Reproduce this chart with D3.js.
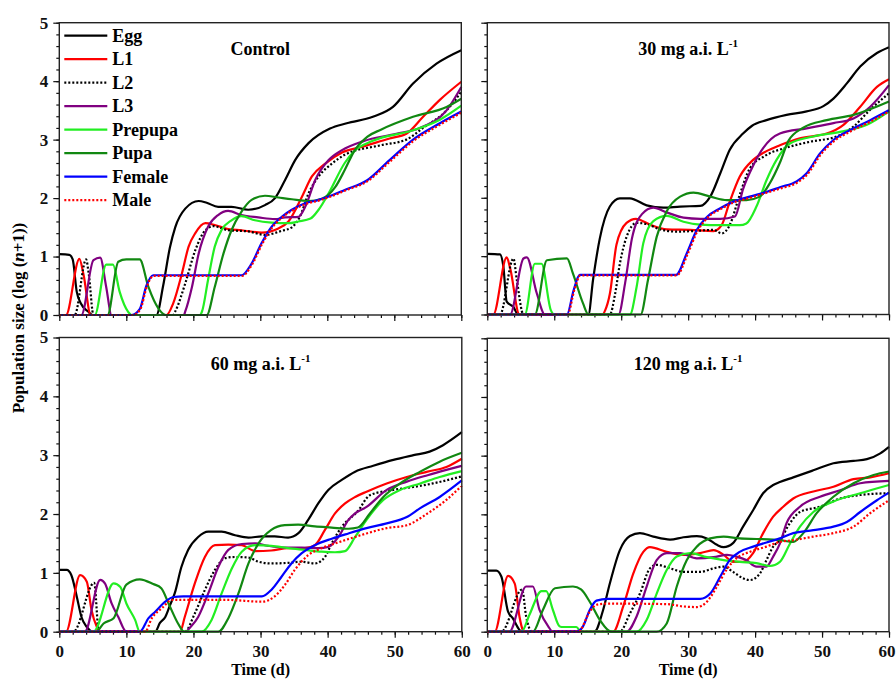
<!DOCTYPE html>
<html>
<head>
<meta charset="utf-8">
<script src="https://cdn.jsdelivr.net/npm/d3@7"></script>
<style>
  body { margin: 0; background: #fff; }
  text { font-family: "Liberation Serif", "Times New Roman", serif; font-weight: bold; }
</style>
</head>
<body>
<svg id="drawspace" width="896" height="681"></svg>
<script>
// ---- data: [day, log(n+1)] ----
const ctrlEgg = [[0,1.04],[1.5,1.03],[2,0.95],[2.6,0.4],[3.2,0.2],[4.3,0.06],[5,0],[14.5,0],[15.5,0.5],[16.5,1.15],[17.3,1.5],[18.8,1.82],[20.8,1.95],[22,1.92],[23.7,1.85],[25.7,1.85],[28.2,1.8],[30.7,1.88],[32.2,2.0],[33.7,2.31],[35.2,2.65],[37.2,2.94],[40.4,3.19],[42.9,3.28],[46.8,3.39],[49.8,3.56],[52.8,3.96],[56.3,4.3],[60,4.53]];
const ctrlL1 = [[0,0],[1,0],[3,0.96],[3.6,0.7],[4.7,0],[16,0],[17,0.2],[18.3,0.71],[19.3,1.17],[20.3,1.4],[21.8,1.57],[23.2,1.54],[25.2,1.47],[27.2,1.45],[30.2,1.41],[32.7,1.48],[34.2,1.6],[36.2,2.02],[37.7,2.37],[39.7,2.59],[42.2,2.78],[45.3,2.88],[49.3,3.02],[51.8,3.1],[54.3,3.39],[56.8,3.68],[60,3.99]];
const ctrlL2 = [[0,0],[2.3,0],[4,0.95],[4.4,0.7],[5.1,0],[17,0],[17.3,0.06],[18.8,0.54],[20.3,1.11],[21.8,1.45],[23,1.52],[25.2,1.45],[28.2,1.43],[30.7,1.37],[33.2,1.44],[34.7,1.5],[35.9,1.68],[37.2,2.08],[38.7,2.37],[40.7,2.59],[42.6,2.74],[47.8,2.9],[51.8,3.0],[54.3,3.2],[57.8,3.5],[60,3.82]];
const ctrlL3 = [[0,0],[3.3,0],[5.1,0.94],[6.1,0.98],[7,0.48],[7.8,0],[18.6,0],[18.8,0.06],[19.8,0.48],[20.8,1.05],[22.2,1.51],[23.7,1.71],[25.2,1.78],[27.2,1.71],[29.7,1.67],[32.2,1.64],[33.7,1.67],[35.7,1.68],[36.7,1.85],[38.2,2.31],[40.2,2.65],[42.2,2.82],[45.3,2.97],[50.3,3.1],[53.8,3.2],[57.8,3.5],[60,3.9]];
const ctrlPrepupa = [[0,0],[5.3,0],[7,0.86],[8,0.86],[9,0.4],[10.3,0.05],[10.8,0],[21,0],[21.3,0.06],[22.2,0.6],[23.2,1.17],[24.2,1.45],[25.7,1.62],[27.2,1.69],[29.2,1.62],[31.7,1.58],[34.2,1.57],[35.7,1.6],[37.5,1.65],[38.7,1.8],[40.2,2.08],[42.6,2.6],[44,2.8],[46.8,2.98],[52.8,3.16],[56.8,3.34],[60,3.58]];
const ctrlPupa = [[0,0],[7.2,0],[8.8,0.91],[10,0.95],[12,0.95],[13.3,0.48],[14.8,0.11],[15.9,0],[22,0],[23.2,0.48],[24.5,1.05],[25.7,1.45],[27.2,1.77],[28.7,1.97],[30.7,2.04],[32.7,2.01],[34.7,1.98],[37.2,1.95],[39.2,1.99],[41.2,2.19],[42.6,2.48],[44,2.8],[46,3.05],[48,3.17],[52.8,3.39],[57.8,3.56],[60,3.7]];
const ctrlFemale = [[0,0],[10.8,0],[12,0.1],[13,0.5],[14,0.68],[27.2,0.68],[28.7,0.88],[30.2,1.23],[31.7,1.51],[33.2,1.68],[34.7,1.8],[36.7,1.91],[38.7,1.97],[40.7,2.05],[42.6,2.14],[45.9,2.3],[49.3,2.65],[52.8,3.0],[56.8,3.28],[60,3.48]];
const ctrlMale = [[0,0],[11,0],[12.1,0.1],[13.1,0.5],[14.1,0.67],[27.3,0.67],[28.8,0.87],[30.3,1.22],[31.8,1.5],[33.3,1.67],[34.8,1.79],[36.8,1.9],[38.8,1.96],[40.8,2.04],[42.7,2.13],[46,2.29],[49.4,2.63],[52.9,2.98],[56.9,3.26],[60,3.46]];

const mg30Egg = [[0,1.04],[1.9,1.03],[2.4,0.82],[2.9,0.22],[3.9,0.13],[4.6,0],[15.1,0],[15.8,0.6],[16.8,1.3],[18.3,1.85],[19.8,1.99],[21.3,1.99],[23.8,1.87],[26.3,1.83],[28.8,1.85],[31.8,1.86],[33.3,2.02],[34.8,2.42],[36.2,2.82],[38.2,3.1],[39.5,3.23],[41.7,3.33],[44.7,3.42],[47.7,3.48],[50.2,3.57],[51.7,3.7],[53.7,3.96],[55.7,4.25],[58.2,4.48],[60,4.58]];
const mg30L1 = [[0,0],[0.9,0],[2.9,0.98],[3.4,0.8],[4.8,0],[17.2,0],[17.6,0.07],[18.3,0.35],[19.3,1.2],[20.8,1.57],[22.2,1.64],[24.3,1.54],[26.8,1.46],[30.3,1.45],[33.8,1.43],[35,1.53],[36.2,1.93],[37.7,2.36],[39.7,2.65],[41.7,2.8],[43.7,2.9],[46.7,3.02],[50.7,3.1],[53.2,3.25],[55.7,3.56],[58.2,3.9],[60,4.03]];
const mg30L2 = [[0,0],[1.9,0],[3.9,0.96],[4.4,0.6],[5.4,0],[18.3,0],[19.1,0.36],[19.8,0.87],[20.8,1.33],[22.3,1.57],[23.8,1.55],[25.8,1.46],[28.3,1.42],[30.8,1.43],[33.8,1.45],[35,1.39],[36.2,1.53],[37.7,2.05],[39.2,2.5],[41.5,2.72],[44.7,2.86],[48.2,2.96],[52.2,3.05],[54.7,3.22],[57.2,3.51],[60,3.79]];
const mg30L3 = [[0,0],[3.4,0],[5.4,0.96],[5.9,0.98],[7.4,0.36],[8.6,0],[19.6,0],[20.6,0.55],[21.6,1.3],[23.1,1.72],[24.8,1.83],[26.8,1.75],[29.3,1.66],[31.8,1.64],[34.8,1.64],[37,1.68],[38.2,2.15],[39.7,2.55],[41.2,2.85],[43.7,3.1],[47.7,3.19],[51.7,3.28],[54.7,3.36],[57.2,3.56],[60,3.93]];
const mg30Prepupa = [[0,0],[5.6,0],[7.1,0.87],[8.1,0.87],[9.5,0.07],[10,0],[21.3,0],[22.3,0.47],[23.3,1.22],[24.8,1.6],[26.8,1.69],[29.3,1.59],[31.8,1.54],[34.8,1.53],[37.7,1.53],[38.7,1.56],[40.2,1.85],[41.7,2.3],[43.2,2.65],[45.2,2.93],[48.7,3.05],[52.7,3.13],[56.7,3.25],[60,3.48]];
const mg30Pupa = [[0,0],[7.1,0],[8.9,0.93],[11.9,0.96],[12.8,0.7],[14.3,0.19],[15.1,0],[22.9,0],[24,0.59],[25.3,1.33],[26.8,1.77],[28.8,2.02],[30.8,2.09],[33.3,2.02],[35.8,1.96],[38.7,1.96],[40.7,2.02],[42.2,2.25],[43.7,2.6],[45,2.98],[47.2,3.2],[50.7,3.33],[54.7,3.42],[60,3.65]];
const mg30Female = [[0,0],[11.9,0],[12.9,0.42],[13.8,0.68],[28.2,0.68],[29.8,1.05],[31.3,1.45],[32.8,1.67],[34.8,1.82],[36.7,1.93],[39.2,2.02],[41.7,2.1],[43.7,2.18],[46.2,2.28],[47.7,2.42],[49.7,2.76],[51.7,2.99],[54.2,3.16],[57.2,3.33],[60,3.5]];
const mg30Male = [[0,0],[12,0],[13,0.42],[13.9,0.67],[28.3,0.67],[29.9,1.03],[31.4,1.43],[32.9,1.66],[34.9,1.81],[36.8,1.92],[39.3,2.0],[41.8,2.09],[43.8,2.16],[46.3,2.26],[47.8,2.4],[49.8,2.74],[51.8,2.97],[54.3,3.14],[57.3,3.31],[60,3.48]];

const mg60Egg = [[0,1.05],[1.1,1.05],[1.8,0.96],[2.6,0.6],[3.3,0.25],[4.1,0.08],[5,0],[14.3,0],[15,0.15],[15.8,0.25],[16.5,0.45],[17.2,0.65],[18.2,1.1],[19.2,1.39],[20.7,1.61],[22.2,1.7],[24.2,1.7],[26.2,1.64],[28.2,1.6],[30.2,1.62],[32.1,1.62],[34.1,1.6],[35.6,1.67],[37.1,1.9],[38.6,2.18],[40.1,2.41],[42.1,2.58],[44.1,2.72],[46.8,2.82],[49.8,2.92],[52.8,3.0],[55.2,3.06],[57.2,3.17],[60,3.39]];
const mg60L1 = [[0,0],[1,0],[3.1,0.96],[4.1,0.85],[4.8,0.37],[5.6,0.08],[6,0],[18,0],[18.7,0.25],[20.2,0.82],[21.7,1.27],[23.2,1.47],[25.2,1.48],[27.2,1.47],[29.2,1.37],[31.6,1.38],[34.1,1.42],[36.6,1.42],[38.1,1.47],[39.6,1.73],[41.1,2.01],[42.6,2.18],[44.1,2.29],[45.8,2.38],[48.8,2.52],[51.8,2.63],[54.9,2.72],[57.7,2.8],[60,2.94]];
const mg60L2 = [[0,0],[2.1,0],[5.2,0.83],[5.9,0],[18.7,0],[20.2,0.31],[21.7,0.71],[23.2,1.05],[24.7,1.25],[26.2,1.27],[28.2,1.26],[29.7,1.19],[31.6,1.16],[34.1,1.17],[36.1,1.19],[38.1,1.16],[39.6,1.27],[40.6,1.5],[42.1,1.78],[44.5,2.05],[46.3,2.32],[49.8,2.41],[52.8,2.46],[55.7,2.52],[60,2.64]];
const mg60L3 = [[0,0],[3.8,0],[6.1,0.88],[6.8,0.82],[7.8,0.48],[8.8,0.25],[10,0],[19,0],[19.2,0.03],[20.7,0.25],[22.2,0.65],[23.7,1.1],[25.2,1.39],[27.2,1.49],[29.2,1.5],[31.1,1.46],[33.6,1.43],[36.1,1.43],[38.6,1.42],[40.1,1.44],[41.6,1.61],[43.1,1.9],[44.1,2.01],[45.8,2.12],[48.8,2.41],[51.8,2.55],[54.9,2.66],[57.7,2.75],[60,2.82]];
const mg60Prepupa = [[0,0],[5.1,0],[8.1,0.82],[9.1,0.76],[10,0.48],[11.3,0.2],[12,0],[21.2,0],[22.7,0.2],[24.2,0.65],[25.7,1.07],[27.2,1.36],[29.2,1.47],[31.6,1.46],[34.1,1.42],[36.6,1.39],[39.1,1.36],[41.1,1.35],[42.6,1.37],[44.1,1.61],[45.8,1.9],[48.3,2.24],[50.8,2.41],[53.8,2.52],[56.7,2.63],[60,2.73]];
const mg60Pupa = [[0,0],[5.5,0],[6.6,0.14],[8.1,0.23],[10,0.8],[12,0.89],[14,0.81],[15.2,0.74],[16.4,0.45],[17.7,0.14],[18.6,0],[23.7,0],[25.2,0.23],[26.7,0.65],[28.2,1.16],[29.7,1.5],[31.6,1.73],[33.6,1.81],[35.6,1.82],[38.1,1.79],[40.6,1.77],[43.1,1.75],[44.5,1.77],[46.3,2.01],[48.3,2.29],[50.8,2.52],[53.8,2.72],[56.7,2.89],[60,3.04]];
const mg60Female = [[0,0],[12,0],[13.3,0.23],[14.3,0.34],[15.8,0.51],[17,0.59],[18.5,0.6],[30.2,0.6],[31.6,0.71],[33.1,0.93],[34.6,1.16],[36.1,1.33],[38.1,1.47],[40.6,1.58],[43.1,1.67],[45.8,1.76],[48.8,1.84],[51.8,1.95],[53.8,2.1],[56.7,2.29],[60,2.57]];
const mg60Male = [[0,0],[12.8,0],[13.8,0.23],[15.3,0.4],[16.8,0.54],[18.5,0.54],[25,0.54],[30.2,0.51],[32.1,0.6],[33.6,0.79],[35.1,1.05],[37.1,1.3],[39.1,1.42],[41.1,1.5],[44.1,1.61],[45.8,1.67],[48.8,1.76],[51.8,1.81],[54.9,2.01],[57.7,2.24],[60,2.48]];

const mg120Egg = [[0,1.04],[1.35,1.04],[2.1,0.94],[3.1,0.34],[3.8,0.23],[4.8,0.03],[5.1,0],[16,0],[17.3,0.37],[18.3,0.82],[19.8,1.39],[21.3,1.63],[22.8,1.68],[24.8,1.62],[27.3,1.57],[29.3,1.61],[31.3,1.63],[32.8,1.59],[34.3,1.48],[35.3,1.44],[36.7,1.51],[38.2,1.79],[39.7,2.07],[41.2,2.36],[42.7,2.5],[43.7,2.55],[45.7,2.63],[48.7,2.75],[51.7,2.87],[54.7,2.91],[56.7,2.94],[58.7,3.04],[60,3.15]];
const mg120L1 = [[0,0],[1.1,0],[3.1,0.95],[4.1,0.82],[4.8,0.26],[5.3,0.03],[5.6,0],[18.8,0],[20.3,0.43],[21.8,0.99],[23.3,1.36],[24.3,1.44],[26.8,1.36],[29.3,1.31],[31.8,1.34],[33.8,1.39],[35.3,1.31],[36.7,1.19],[38.2,1.19],[39.7,1.34],[41.2,1.68],[42.7,1.96],[44.2,2.13],[45.7,2.27],[48.7,2.39],[51.7,2.47],[54.7,2.6],[57.2,2.63],[60,2.7]];
const mg120L2 = [[0,0],[2.1,0],[5.2,0.72],[5.8,0.26],[6.7,0],[19.8,0],[21.3,0.31],[22.8,0.65],[24.3,1.08],[25.3,1.14],[27.3,1.08],[29.3,1.02],[31.8,1.02],[33.8,1.08],[35.3,1.11],[36.7,1.02],[38.2,0.91],[39.2,0.88],[40.7,0.99],[41.7,1.22],[42.7,1.45],[43.7,1.56],[45.2,1.85],[46.7,2.04],[49.7,2.13],[52.7,2.27],[55.7,2.33],[60,2.36]];
const mg120L3 = [[0,0],[3.3,0],[5.8,0.77],[6.8,0.77],[7.8,0.37],[9.1,0.09],[9.8,0],[20.8,0],[22.3,0.26],[23.8,0.77],[25.3,1.22],[26.8,1.34],[28.8,1.34],[31.3,1.25],[33.8,1.27],[35.8,1.31],[37.2,1.28],[38.7,1.22],[40.2,1.11],[41.7,1.11],[42.7,1.28],[43.7,1.5],[44.7,1.85],[46.7,2.13],[49.7,2.3],[52.7,2.41],[55.7,2.53],[60,2.57]];
const mg120Prepupa = [[0,0],[5.1,0],[6.3,0.29],[8.1,0.69],[8.8,0.69],[9.8,0.37],[10.8,0.09],[11.1,0.08],[13.3,0.08],[14,0],[22.3,0],[23.8,0.2],[25.3,0.65],[26.8,1.05],[28.3,1.28],[30.3,1.34],[32.8,1.27],[35.3,1.22],[37.7,1.19],[40.2,1.17],[42.2,1.12],[43.7,1.19],[45.2,1.5],[46.7,1.79],[48.7,2.04],[51.7,2.22],[55.7,2.36],[60,2.5]];
const mg120Pupa = [[0,0],[6.8,0],[8.3,0.37],[10.1,0.74],[12.8,0.77],[14,0.72],[15.3,0.51],[16.8,0.2],[18,0.03],[18.5,0],[25.3,0],[26.8,0.14],[28.3,0.77],[29.8,1.22],[31.3,1.45],[33.3,1.59],[35.3,1.62],[37.7,1.59],[40.2,1.58],[42.7,1.57],[43.7,1.56],[45.7,1.53],[47.2,1.68],[49.2,2.02],[51.7,2.3],[54.7,2.53],[57.7,2.67],[60,2.73]];
const mg120Female = [[0,0],[13.3,0],[14.3,0.09],[15.3,0.37],[16.3,0.53],[18,0.56],[31.8,0.56],[33.3,0.65],[34.8,0.94],[36.2,1.22],[37.7,1.36],[39.7,1.45],[41.7,1.52],[43.7,1.59],[45.7,1.68],[48.7,1.73],[51.7,1.79],[53.7,1.87],[55.7,2.04],[58.2,2.24],[60,2.37]];
const mg120Male = [[0,0],[13.6,0],[15.3,0.34],[16.3,0.46],[18,0.48],[26.8,0.47],[29.3,0.43],[31.3,0.42],[32.8,0.51],[34.3,0.77],[35.7,1.05],[37.2,1.25],[39.2,1.36],[41.7,1.45],[43.7,1.53],[45.7,1.56],[48.7,1.62],[51.7,1.68],[54.7,1.79],[57.2,2.02],[60,2.24]];

const stages = ["Egg", "L1", "L2", "L3", "Prepupa", "Pupa", "Female", "Male"];
const panelTitles = ["Control", "30 mg a.i. L", "60 mg a.i. L", "120 mg a.i. L"];
const xTicks = [0, 10, 20, 30, 40, 50, 60];
const yTicks = [0, 1, 2, 3, 4, 5];

const panelSeries = [
  [ctrlEgg, ctrlL1, ctrlL2, ctrlL3, ctrlPrepupa, ctrlPupa, ctrlFemale, ctrlMale],
  [mg30Egg, mg30L1, mg30L2, mg30L3, mg30Prepupa, mg30Pupa, mg30Female, mg30Male],
  [mg60Egg, mg60L1, mg60L2, mg60L3, mg60Prepupa, mg60Pupa, mg60Female, mg60Male],
  [mg120Egg, mg120L1, mg120L2, mg120L3, mg120Prepupa, mg120Pupa, mg120Female, mg120Male]
];

// line styles per stage
const lineColor = {
  Egg: "#000000", L1: "#ff0000", L2: "#000000", L3: "#800080",
  Prepupa: "#22ee22", Pupa: "#118811", Female: "#0000ff", Male: "#ff0000"
};
const lineDash = { L2: "2,2", Male: "2,2" };

let drawspace = d3.select("#drawspace");

const panels = [
  { left: 59.3, top: 22.7, w: 402, h: 292.3, xLab: false, yLab: true },
  { left: 487.3, top: 22.7, w: 401.7, h: 291.8, xLab: false, yLab: false },
  { left: 59.3, top: 337.5, w: 402.5, h: 294.2, xLab: true, yLab: true },
  { left: 487.3, top: 338.3, w: 401.7, h: 293.4, xLab: true, yLab: false }
];

panels.forEach((p, i) => drawPanel(p, i));

function drawPanel(p, i) {
  var xScale = d3.scaleLinear().domain([0, 60]).range([0, p.w]);
  var yScale = d3.scaleLinear().domain([0, 5]).range([p.h, 0]);

  var g = drawspace
    .append("g")
    .attr("transform", "translate(" + p.left + "," + p.top + ")");

  // minor ticks
  g.append("g")
    .attr("transform", "translate(0," + p.h + ")")
    .call(d3.axisBottom(xScale).tickValues(d3.range(0, 61, 2)).tickSize(3).tickFormat(""));
  g.append("g")
    .call(d3.axisLeft(yScale).tickValues(d3.range(0, 26).map((v) => v / 5)).tickSize(3).tickFormat(""));

  // major ticks
  var xAxisG = g.append("g")
    .attr("transform", "translate(0," + p.h + ")")
    .call(
      d3.axisBottom(xScale).tickValues(xTicks).tickSize(6).tickPadding(7)
        .tickFormat(p.xLab ? d3.format("d") : "")
    );
  g.append("g")
    .call(
      d3.axisLeft(yScale).tickValues(yTicks).tickSize(6).tickPadding(5)
        .tickFormat(p.yLab ? d3.format("d") : "")
    );

  g.selectAll(".domain").remove();
  g.selectAll(".tick line").attr("stroke", "#111").attr("stroke-width", 1.2);
  g.selectAll(".tick text")
    .attr("font-size", "17px")
    .attr("fill", "#111")
    .style("font-family", '"Liberation Serif", "Times New Roman", serif')
    .style("font-weight", "bold");

  // the last label of the right-hand panel sits at the page edge: keep it inside
  if (p.xLab && p.left + p.w + 9 > 896) {
    xAxisG.selectAll(".tick text")
      .filter((d) => d === 60)
      .attr("text-anchor", "end")
      .attr("x", 896 - 1 - (p.left + p.w));
  }

  var line = d3
    .line()
    .x((d) => xScale(d[0]))
    .y((d) => yScale(d[1]))
    .curve(d3.curveMonotoneX);

  stages.forEach((s, k) => {
    g.append("path")
      .datum(panelSeries[i][k])
      .attr("fill", "none")
      .attr("stroke", lineColor[s])
      .attr("stroke-width", 2.2)
      .attr("stroke-dasharray", lineDash[s] || null)
      .attr("d", line);
  });

  // frame
  g.append("rect")
    .attr("width", p.w)
    .attr("height", p.h)
    .attr("fill", "none")
    .attr("stroke", "#222")
    .attr("stroke-width", 1.4);

  // panel title
  var title = g
    .append("text")
    .attr("x", p.w / 2)
    .attr("y", 32)
    .attr("text-anchor", "middle")
    .attr("font-size", "18px")
    .text(panelTitles[i]);
  if (i > 0) {
    title.append("tspan").attr("dy", -8).attr("font-size", "11px").text("-1");
  }

  if (p.xLab) {
    g.append("text")
      .attr("x", p.w / 2)
      .attr("y", p.h + 43)
      .attr("text-anchor", "middle")
      .attr("font-size", "16px")
      .text("Time (d)");
  }

  if (i === 0) drawLegend(g);
}

function drawLegend(g) {
  stages.forEach((s, k) => {
    var y = 13 + k * 23.5;
    g.append("line")
      .attr("x1", 5)
      .attr("x2", 48)
      .attr("y1", y)
      .attr("y2", y)
      .attr("stroke", lineColor[s])
      .attr("stroke-width", 2.2)
      .attr("stroke-dasharray", lineDash[s] || null);
    g.append("text")
      .attr("x", 53)
      .attr("y", y + 6)
      .attr("font-size", "18px")
      .text(s);
  });
}

// shared y axis title
var yTitle = drawspace
  .append("text")
  .attr("transform", "translate(24,318) rotate(-90)")
  .attr("text-anchor", "middle")
  .attr("font-size", "17px")
  .text("Population size (log (");
yTitle.append("tspan").style("font-style", "italic").text("n");
yTitle.append("tspan").text("+1))");
</script>
</body>
</html>
